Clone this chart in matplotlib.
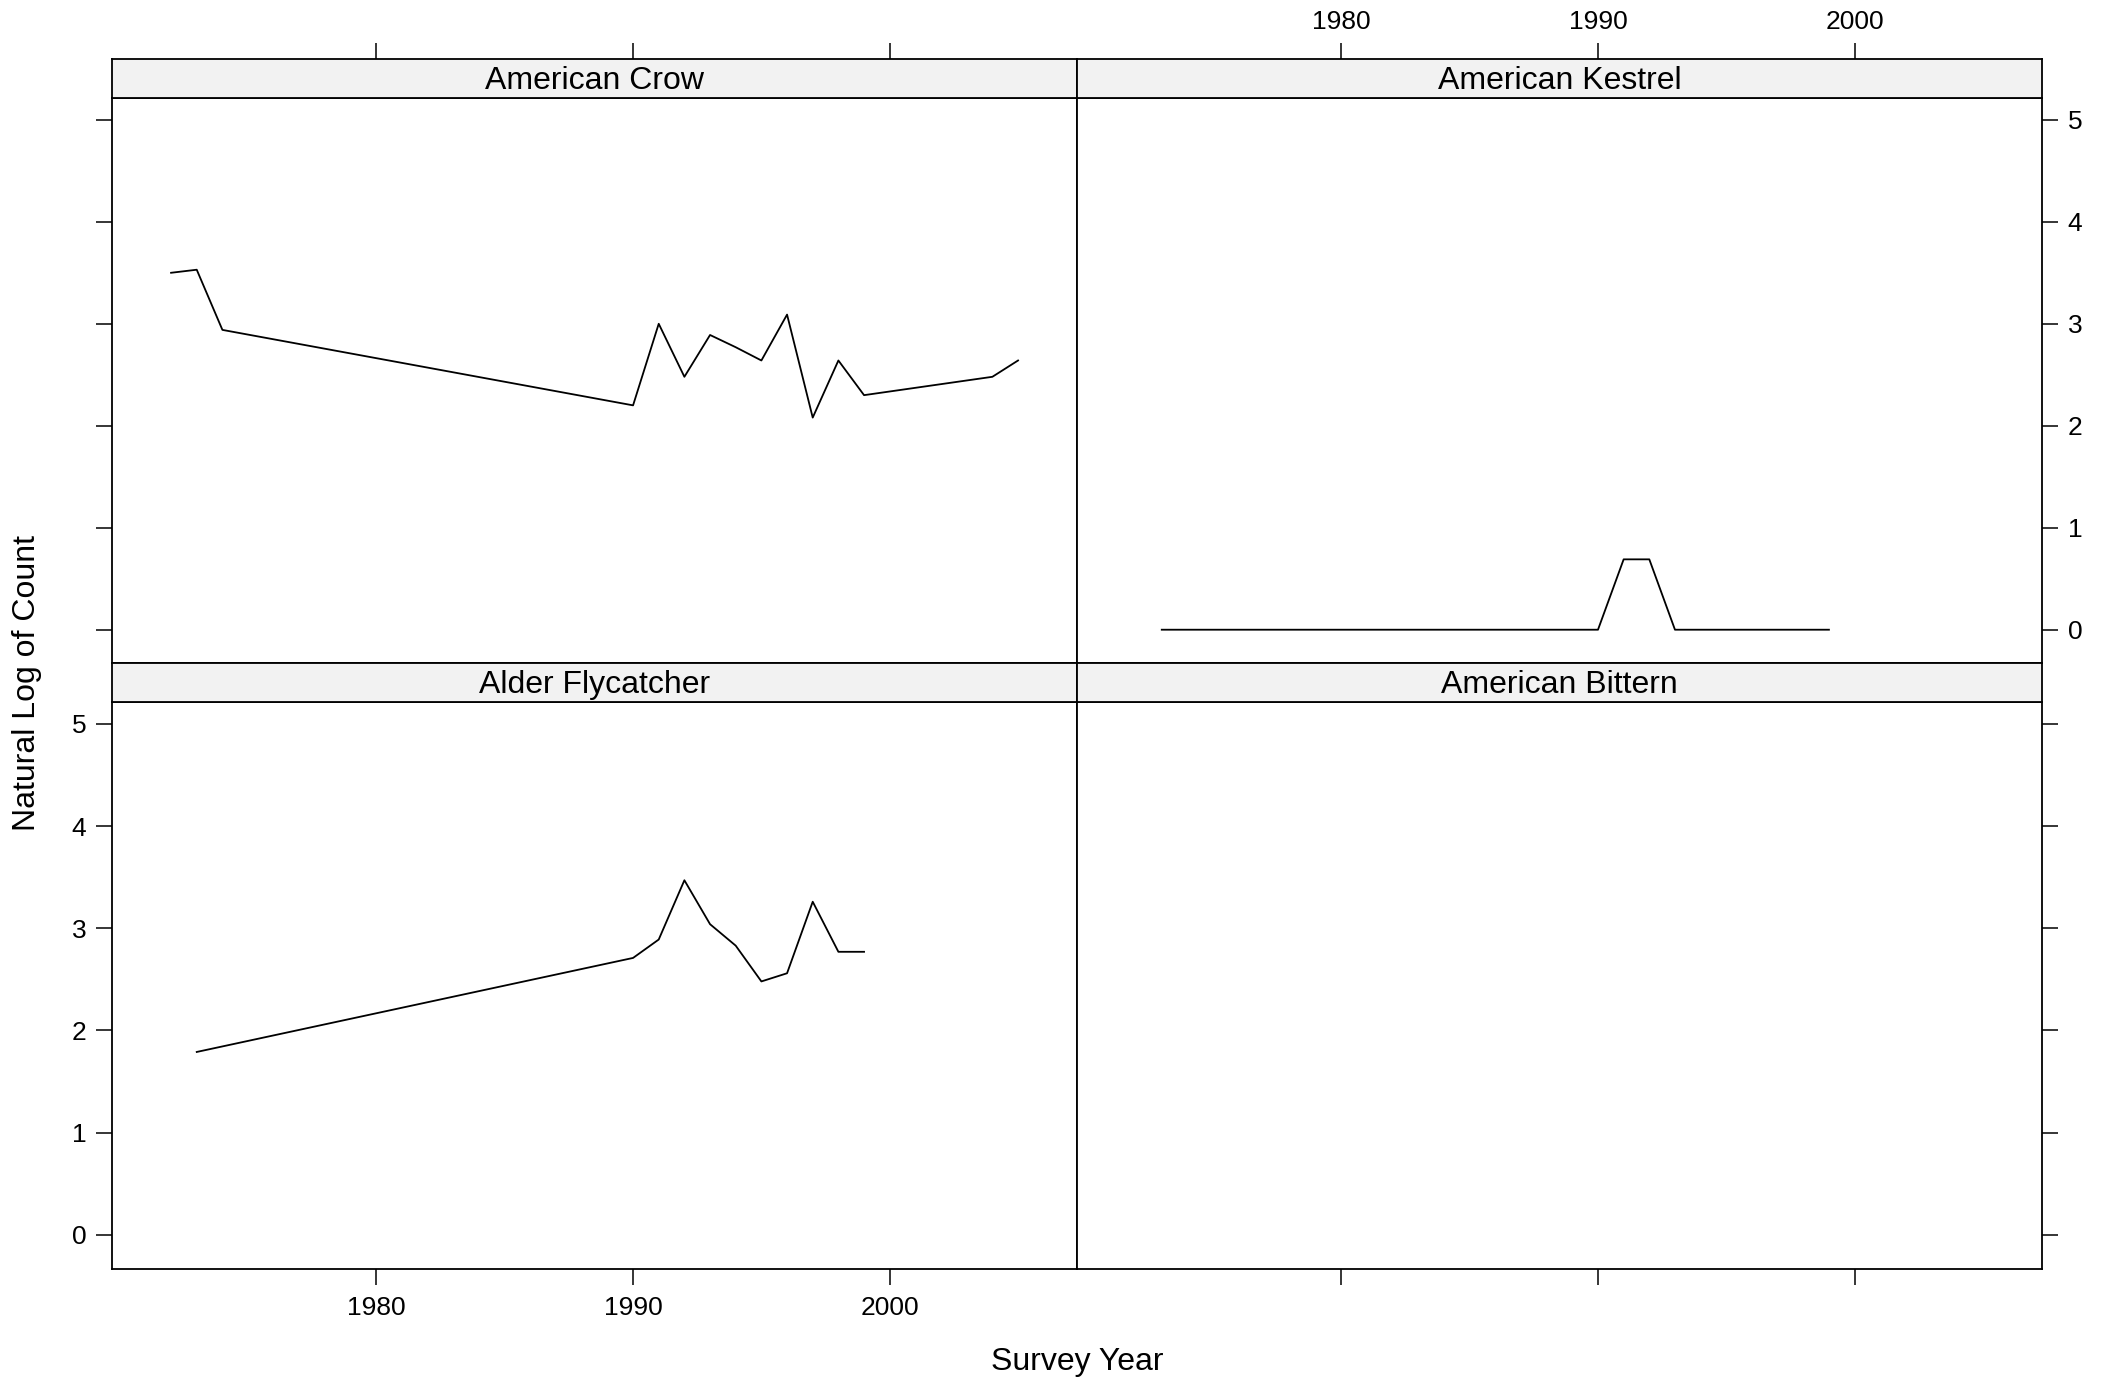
import numpy as np
import matplotlib.pyplot as plt

plt.rcParams['font.family'] = ['Liberation Sans', 'DejaVu Sans']

# natural log of counts
crow_years = [1972, 1973, 1974, 1990, 1991, 1992, 1993, 1994, 1995, 1996, 1997, 1998, 1999, 2004, 2005]
crow_logs = [3.50, 3.53, 2.94, 2.20, 3.00, 2.48, 2.89, 2.77, 2.64, 3.09, 2.08, 2.64, 2.30, 2.48, 2.64]

kestrel_years = [1973, 1990, 1991, 1992, 1993, 1999]
kestrel_logs = [0.0, 0.0, 0.69, 0.69, 0.0, 0.0]

alder_years = [1973, 1990, 1991, 1992, 1993, 1994, 1995, 1996, 1997, 1998, 1999]
alder_logs = [1.79, 2.71, 2.89, 3.47, 3.04, 2.83, 2.48, 2.56, 3.26, 2.77, 2.77]

bittern_years = []
bittern_logs = []

x_ticks = [1980, 1990, 2000]
y_ticks = [0, 1, 2, 3, 4, 5]
xlim = (1969.7, 2007.3)
ylim = (-0.33, 5.21)

fig = plt.figure(figsize=(21.14, 13.8), dpi=100)

# panel grid (figure fractions)
L, M, R = 0.0530, 0.5095, 0.9659
B, D, T = 0.0807, 0.5193, 0.9570
S = 0.0283  # strip height

tick_kw = dict(direction='out', length=11.5, width=1.1, labelsize=19, pad=7)


def panel(x0, x1, y0, y1, title, years, vals, top_ticks, top_labels,
          bot_ticks, bot_labels, left_side, y_labels):
    ax = fig.add_axes([x0, y0, x1 - x0, y1 - y0 - S])
    st = fig.add_axes([x0, y1 - S, x1 - x0, S])
    if len(years):
        ax.plot(years, vals, color='black', linewidth=1.3)
    for a in (ax, st):
        a.set_xlim(*xlim)
        for sp in a.spines.values():
            sp.set_linewidth(1.3)
    ax.set_ylim(*ylim)
    ax.set_xticks(x_ticks)
    ax.set_yticks(y_ticks)
    ax.tick_params(axis='x', top=False, labeltop=False, bottom=bot_ticks,
                   labelbottom=bot_labels, **dict(tick_kw, pad=8.5))
    ax.tick_params(axis='y', left=left_side, labelleft=left_side and y_labels,
                   right=not left_side, labelright=(not left_side) and y_labels,
                   **tick_kw)
    st.set_facecolor('#F2F2F2')
    st.set_yticks([])
    st.set_xticks(x_ticks)
    st.tick_params(axis='x', bottom=False, labelbottom=False, top=top_ticks,
                   labeltop=top_labels, **tick_kw)
    st.text(0.5, 0.44, title, transform=st.transAxes, ha='center', va='center',
            fontsize=23)
    return ax


panel(L, M, D, T, 'American Crow', crow_years, crow_logs,
      True, False, False, False, True, False)
panel(M, R, D, T, 'American Kestrel', kestrel_years, kestrel_logs,
      True, True, False, False, False, True)
panel(L, M, B, D, 'Alder Flycatcher', alder_years, alder_logs,
      False, False, True, True, True, True)
panel(M, R, B, D, 'American Bittern', bittern_years, bittern_logs,
      False, False, True, False, False, False)

fig.text(0.5 * (L + R), 0.0134, 'Survey Year', ha='center', va='center', fontsize=23)
fig.text(0.0128, 0.505, 'Natural Log of Count', ha='center', va='center',
         rotation=90, fontsize=23)

fig.savefig('out.png', dpi=100)
